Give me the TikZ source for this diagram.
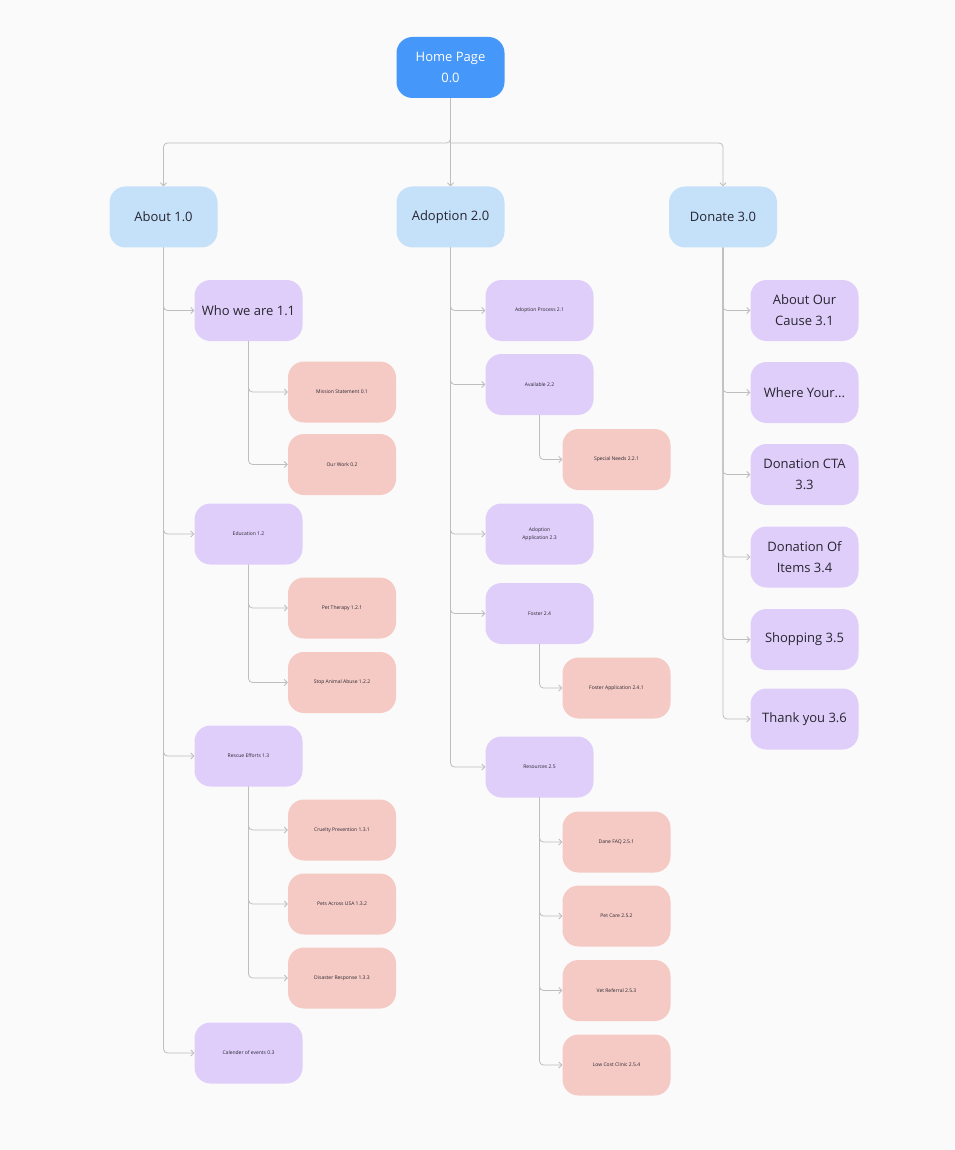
\documentclass[tikz,border=0pt]{standalone}
\usepackage{fontspec}
\setmainfont{Open Sans}
\usepackage{tikz}
\usetikzlibrary{arrows.meta}
\definecolor{bgcol}{RGB}{250,250,250}
\definecolor{homeblue}{RGB}{70,151,250}
\definecolor{sectblue}{RGB}{197,225,250}
\definecolor{pagepurple}{RGB}{224,206,250}
\definecolor{subpink}{RGB}{246,202,196}
\definecolor{linegrey}{RGB}{190,190,190}
\definecolor{textdark}{RGB}{38,38,48}

\begin{document}
\begin{tikzpicture}[
  x=1pt, y=-1pt,
  box/.style={rectangle, rounded corners=16pt, minimum width=108pt,
              minimum height=61pt, inner sep=2pt, align=center, text=textdark},
  homebox/.style={box, fill=homeblue, text=white, font=\fontsize{13}{21}\selectfont},
  sectbox/.style={box, fill=sectblue, font=\fontsize{13}{21}\selectfont},
  pagebox/.style={box, fill=pagepurple, font=\fontsize{13}{21}\selectfont},
  smallpage/.style={box, fill=pagepurple, font=\fontsize{5}{8}\selectfont},
  subbox/.style={box, fill=subpink, font=\fontsize{5}{8}\selectfont},
  arr/.style={draw=linegrey, line width=0.8pt, rounded corners=4pt,
              -{Straight Barb[length=3pt,width=6pt]}}
]
\fill[bgcol] (0,0) rectangle (954,1150);
\useasboundingbox (0,0) rectangle (954,1150);

% top levels
\node[homebox] (home) at (450.5,67.5) {Home Page\\0.0};
\coordinate (split) at (450.5,143);
\node[sectbox] (about) at (163.5,217) {About 1.0};
\node[sectbox] (adopt) at (450.5,217) {Adoption 2.0};
\node[sectbox] (donate) at (723,217) {Donate 3.0};

% about column
\node[pagebox] (who) at (248.5,310.5) {Who we are 1.1};
\node[subbox] (mission) at (342,392) {Mission Statement 0.1};
\node[subbox] (work) at (342,464.5) {Our Work 0.2};
\node[smallpage] (edu) at (248.5,534) {Education 1.2};
\node[subbox] (therapy) at (342,608) {Pet Therapy 1.2.1};
\node[subbox] (abuse) at (342,682.5) {Stop Animal Abuse 1.2.2};
\node[smallpage] (rescue) at (248.5,756) {Rescue Efforts 1.3};
\node[subbox] (cruelty) at (342,830) {Cruelty Prevention 1.3.1};
\node[subbox] (usa) at (342,904) {Pets Across USA 1.3.2};
\node[subbox] (disaster) at (342,978) {Disaster Response 1.3.3};
\node[smallpage] (events) at (248.5,1053) {Calender of events 0.3};

% adoption column
\node[smallpage] (process) at (539.5,310.5) {Adoption Process 2.1};
\node[smallpage] (avail) at (539.5,384.5) {Available 2.2};
\node[subbox] (special) at (616.5,459.5) {Special Needs 2.2.1};
\node[smallpage] (apply) at (539.5,534) {Adoption\\Application 2.3};
\node[smallpage] (foster) at (539.5,613.5) {Foster 2.4};
\node[subbox] (fosterapp) at (616.5,688) {Foster Application 2.4.1};
\node[smallpage] (res) at (539.5,767) {Resources 2.5};
\node[subbox] (faq) at (616.5,842) {Dane FAQ 2.5.1};
\node[subbox] (care) at (616.5,916) {Pet Care 2.5.2};
\node[subbox] (vet) at (616.5,990.5) {Vet Referral 2.5.3};
\node[subbox] (clinic) at (616.5,1065) {Low Cost Clinic 2.5.4};

% donate column
\node[pagebox] (cause) at (804.5,310.5) {About Our\\Cause 3.1};
\node[pagebox] (where) at (804.5,392.5) {Where Your...};
\node[pagebox] (cta) at (804.5,474.5) {Donation CTA\\3.3};
\node[pagebox] (items) at (804.5,557) {Donation Of\\Items 3.4};
\node[pagebox] (shop) at (804.5,639.5) {Shopping 3.5};
\node[pagebox] (thanks) at (804.5,719) {Thank you 3.6};

% connectors
\draw[arr] (home.south) -- (split) -| (about.north);
\draw[arr] (home.south) -- (adopt.north);
\draw[arr] (split) -| (donate.north);
\foreach \c in {who,edu,rescue,events}
  \draw[arr] (about.south) |- (\c.west);
\foreach \c in {mission,work}
  \draw[arr] (who.south) |- (\c.west);
\foreach \c in {therapy,abuse}
  \draw[arr] (edu.south) |- (\c.west);
\foreach \c in {cruelty,usa,disaster}
  \draw[arr] (rescue.south) |- (\c.west);
\foreach \c in {process,avail,apply,foster,res}
  \draw[arr] (adopt.south) |- (\c.west);
\draw[arr] (avail.south) |- (special.west);
\draw[arr] (foster.south) |- (fosterapp.west);
\foreach \c in {faq,care,vet,clinic}
  \draw[arr] (res.south) |- (\c.west);
\foreach \c in {cause,where,cta,items,shop,thanks}
  \draw[arr] (donate.south) |- (\c.west);
\end{tikzpicture}
\end{document}
